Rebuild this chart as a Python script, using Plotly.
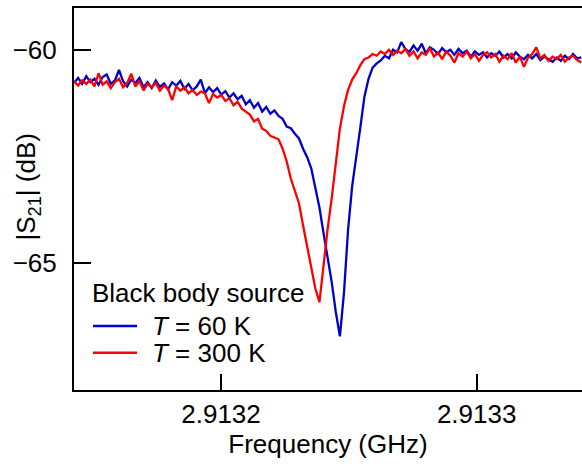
import plotly.graph_objects as go

# Frequency sweep points (GHz)
freq_ghz = [
    2.9131425, 2.9131441, 2.9131457, 2.9131473, 2.9131489, 2.9131505, 2.9131521, 2.9131537, 2.9131553, 2.9131569,
    2.9131585, 2.9131601, 2.9131617, 2.9131633, 2.9131649, 2.9131665, 2.9131681, 2.9131697, 2.9131713, 2.9131729,
    2.9131745, 2.9131761, 2.9131777, 2.9131793, 2.9131809, 2.9131825, 2.9131841, 2.9131857, 2.9131873, 2.9131889,
    2.9131905, 2.9131921, 2.9131937, 2.9131953, 2.9131969, 2.9131985, 2.9132001, 2.9132017, 2.9132033, 2.9132049,
    2.9132065, 2.9132081, 2.9132097, 2.9132113, 2.9132129, 2.9132145, 2.9132161, 2.9132177, 2.9132193, 2.9132209,
    2.9132225, 2.9132241, 2.9132257, 2.9132273, 2.9132289, 2.9132305, 2.9132321, 2.9132337, 2.9132353, 2.9132369,
    2.9132385, 2.9132401, 2.9132417, 2.9132433, 2.9132449, 2.9132465, 2.9132481, 2.9132497, 2.9132513, 2.9132529,
    2.9132545, 2.9132561, 2.9132577, 2.9132593, 2.9132609, 2.9132625, 2.9132641, 2.9132657, 2.9132673, 2.9132689,
    2.9132705, 2.9132721, 2.9132737, 2.9132753, 2.9132769, 2.9132785, 2.9132801, 2.9132817, 2.9132833, 2.9132849,
    2.9132865, 2.9132881, 2.9132897, 2.9132913, 2.9132929, 2.9132945, 2.9132961, 2.9132977, 2.9132993, 2.9133009,
    2.9133025, 2.9133041, 2.9133057, 2.9133073, 2.9133089, 2.9133105, 2.9133121, 2.9133137, 2.9133153, 2.9133169,
    2.9133185, 2.9133201, 2.9133217, 2.9133233, 2.9133249, 2.9133265, 2.9133281, 2.9133297, 2.9133313, 2.9133329,
    2.9133345, 2.9133361, 2.9133377, 2.9133393, 2.9133409,
]

# |S21| (dB), black body source at T = 60 K
s21_60k = [
    -60.78, -60.66, -60.80, -60.62, -60.76, -60.68, -60.82, -60.64, -60.58, -60.80,
    -60.72, -60.47, -60.74, -60.86, -60.70, -60.78, -60.66, -60.88, -60.76, -60.90,
    -60.72, -60.87, -60.79, -60.93, -60.76, -60.84, -60.73, -60.92, -60.80, -60.95,
    -60.86, -60.70, -61.02, -60.88, -60.99, -60.90, -61.05, -60.97, -61.12, -61.02,
    -61.16, -61.08, -61.28, -61.18, -61.36, -61.25, -61.45, -61.34, -61.50, -61.42,
    -61.55, -61.62, -61.80, -61.84, -61.97, -62.08, -62.32, -62.52, -62.78, -63.22,
    -63.70, -64.30, -64.85, -65.45, -66.15, -66.72, -65.70, -64.22, -63.20, -62.45,
    -61.82, -61.10, -60.68, -60.42, -60.32, -60.25, -60.14, -60.20, -60.00, -60.06,
    -59.82, -59.98, -60.05, -59.90, -60.02, -59.86, -60.08, -59.94, -60.00, -60.10,
    -59.96, -60.06, -60.00, -60.12, -59.98, -60.08, -60.02, -60.16, -60.04, -60.12,
    -60.06, -60.18, -60.08, -60.14, -60.04, -60.18, -60.10, -60.20, -60.06, -60.16,
    -60.22, -60.12, -60.20, -60.10, -60.24, -60.16, -60.22, -60.28, -60.18, -60.26,
    -60.14, -60.22, -60.10, -60.20, -60.18,
]

# |S21| (dB), black body source at T = 300 K
s21_300k = [
    -60.74, -60.84, -60.72, -60.80, -60.70, -60.86, -60.55, -60.82, -60.74, -60.90,
    -60.76, -60.68, -60.88, -60.78, -60.56, -60.86, -60.74, -60.95, -60.80, -60.88,
    -60.78, -60.96, -60.84, -60.92, -61.18, -60.86, -60.96, -60.88, -61.02, -60.94,
    -61.06, -60.98, -61.02, -61.25, -61.04, -61.12, -61.06, -61.20, -61.14, -61.30,
    -61.22, -61.38, -61.45, -61.52, -61.68, -61.62, -61.85, -61.90, -62.02, -62.06,
    -62.10, -62.32, -62.62, -63.02, -63.30, -63.60, -64.12, -64.60, -65.10, -65.60,
    -65.92, -65.00, -64.20, -63.48, -62.65, -61.85, -61.32, -60.94, -60.70, -60.55,
    -60.36, -60.22, -60.18, -60.10, -60.14, -60.04, -60.10, -60.00, -60.12, -60.02,
    -60.08, -59.98, -60.14, -60.04, -60.20, -60.06, -60.12, -59.96, -60.16, -60.06,
    -60.22, -60.04, -60.14, -60.30, -60.08, -60.16, -60.04, -60.20, -60.10, -60.26,
    -60.12, -60.06, -60.18, -60.10, -60.28, -60.14, -60.22, -60.08, -60.30, -60.16,
    -60.40, -60.18, -60.10, -59.94, -60.20, -60.12, -60.26, -60.16, -60.22, -60.12,
    -60.28, -60.18, -60.14, -60.24, -60.30,
]

x_tick_vals = [2.9132, 2.9133]
x_tick_text = ["2.9132", "2.9133"]
y_tick_vals = [-60, -65]
y_tick_text = ["\u221260", "\u221265"]

legend_title = "Black body source"
series_names = ["<i>T</i> = 60 K", "<i>T</i> = 300 K"]
series_colors = ["#0000cc", "#ff0000"]

FONT = "Liberation Sans, Arial, Helvetica, sans-serif"
FS = 26

fig = go.Figure()
fig.add_trace(go.Scatter(x=freq_ghz, y=s21_60k, mode="lines", name=series_names[0],
                         line=dict(color=series_colors[0], width=2.3), showlegend=False))
fig.add_trace(go.Scatter(x=freq_ghz, y=s21_300k, mode="lines", name=series_names[1],
                         line=dict(color=series_colors[1], width=2.3), showlegend=False))

# Legend drawn as text + key lines in paper coordinates
fig.add_annotation(text=legend_title, xref="paper", yref="paper", x=0.0315, y=0.2565,
                   xanchor="left", yanchor="middle", showarrow=False, height=27,
                   font=dict(family=FONT, size=FS, color="black"))
key_y = [0.1675, 0.0976]
for name, color, ky in zip(series_names, series_colors, key_y):
    fig.add_shape(type="line", xref="paper", yref="paper", x0=0.0374, x1=0.124, y0=ky, y1=ky,
                  line=dict(color=color, width=2.5))
    fig.add_annotation(text=name, xref="paper", yref="paper", x=0.1496, y=ky,
                       xanchor="left", yanchor="middle", showarrow=False, height=26,
                       font=dict(family=FONT, size=FS, color="black"))

# Y-axis title
fig.add_annotation(text="|S<sub>21</sub>| (dB)", xref="paper", yref="paper", x=0, y=0.530,
                   xshift=-46, xanchor="center", yanchor="middle", textangle=-90, showarrow=False,
                   font=dict(family=FONT, size=FS, color="black"))

fig.update_layout(
    width=582, height=466,
    margin=dict(l=74, r=0, t=8, b=76),
    paper_bgcolor="white", plot_bgcolor="white",
    font=dict(family=FONT, size=FS, color="black"),
)
fig.update_xaxes(
    range=[2.9131425, 2.9133412],
    tickvals=x_tick_vals, ticktext=x_tick_text,
    ticks="inside", ticklen=16, tickwidth=2, tickcolor="black",
    showline=True, linecolor="black", linewidth=2, mirror=True,
    showgrid=False, zeroline=False,
    ticklabelstandoff=0,
    title=dict(text="Frequency (GHz)", standoff=2, font=dict(family=FONT, size=FS)),
    tickfont=dict(family=FONT, size=FS),
)
fig.update_yaxes(
    range=[-67.98, -59.02],
    tickvals=y_tick_vals, ticktext=y_tick_text,
    ticks="inside", ticklen=17, tickwidth=2, tickcolor="black",
    showline=True, linecolor="black", linewidth=2, mirror=False,
    showgrid=False, zeroline=False,
    ticklabelstandoff=10,
    tickfont=dict(family=FONT, size=FS),
)

fig.write_html(
    "out.html",
    config={"displayModeBar": False},
    post_script="document.body.style.margin='0';document.body.style.overflow='hidden';",
)
